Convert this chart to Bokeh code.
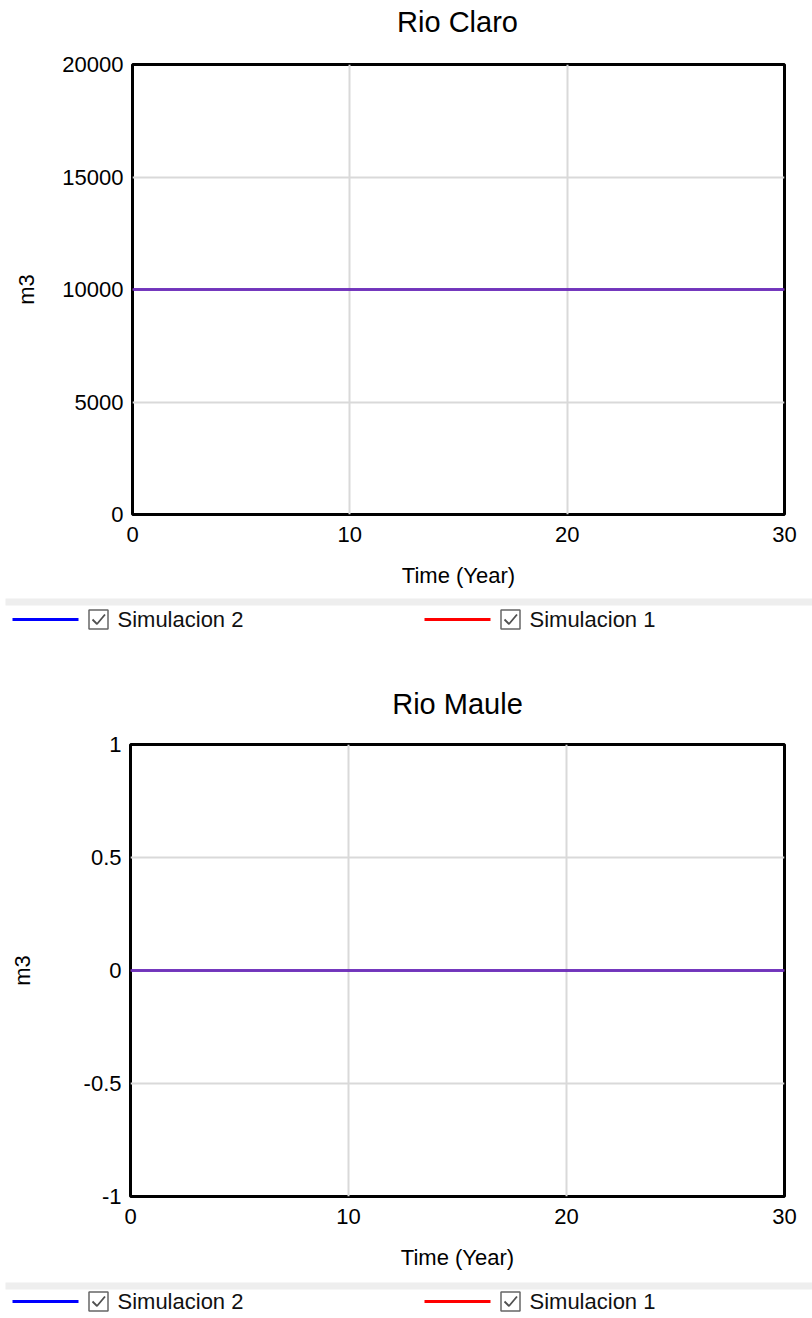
from bokeh.plotting import figure
from bokeh.models import Range1d, FixedTicker
from bokeh.layouts import column
from bokeh.core.properties import value
from bokeh.embed import file_html
from bokeh.resources import INLINE

# ---- data ----
time_years = [0, 5, 10, 15, 20, 25, 30]
rio_claro_sim1 = [10000, 10000, 10000, 10000, 10000, 10000, 10000]
rio_claro_sim2 = [10000, 10000, 10000, 10000, 10000, 10000, 10000]
rio_maule_sim1 = [0, 0, 0, 0, 0, 0, 0]
rio_maule_sim2 = [0, 0, 0, 0, 0, 0, 0]

x_ticks = [0, 10, 20, 30]
claro_y_ticks = [0, 5000, 10000, 15000, 20000]
claro_y_labels = ["0", "5000", "10000", "15000", "20000"]
maule_y_ticks = [-1, -0.5, 0, 0.5, 1]
maule_y_labels = ["-1", "-0.5", "0", "0.5", "1"]
titles = ["Rio Claro", "Rio Maule"]
series_names = ["Simulacion 2", "Simulacion 1"]
series_colors = ["#0000FF", "#FF0000"]

FONT = "Liberation Sans"
W = 812


def blank(height):
    f = figure(width=W, height=height, x_range=Range1d(0, W), y_range=Range1d(height, 0),
               output_backend="svg", toolbar_location=None,
               min_border_left=0, min_border_right=0, min_border_top=0, min_border_bottom=0)
    f.axis.visible = False
    f.grid.visible = False
    f.outline_line_color = None
    return f


def make_header(title, height, yc):
    h = blank(height)
    h.text([457], [yc], text=[title], text_font=value(FONT), text_font_size="29px",
           text_align="center", text_baseline="middle", text_color="#000000")
    return h


def make_chart(sim1, sim2, yr, yticks, ylabels, left, height, ylab_standoff):
    p = figure(width=W, height=height, x_range=Range1d(0, 30), y_range=Range1d(*yr),
               output_backend="svg", toolbar_location=None,
               min_border_left=left, min_border_right=28, min_border_top=16,
               min_border_bottom=83)
    p.outline_line_color = "#000000"
    p.outline_line_width = 3
    p.outline_line_alpha = 1.0
    p.background_fill_color = "white"
    p.border_fill_color = "white"

    p.xaxis.ticker = FixedTicker(ticks=x_ticks)
    p.yaxis.ticker = FixedTicker(ticks=yticks)
    p.yaxis.major_label_overrides = {t: l for t, l in zip(yticks, ylabels)}
    p.xaxis.axis_label = "Time (Year)"
    p.yaxis.axis_label = "m3"
    for ax in (p.xaxis, p.yaxis):
        ax.axis_line_color = None
        ax.major_tick_line_color = None
        ax.minor_tick_line_color = None
        ax.major_tick_out = 0
        ax.major_tick_in = 0
        ax.minor_tick_out = 0
        ax.minor_tick_in = 0
        ax.major_label_text_font = FONT
        ax.major_label_text_font_size = "22px"
        ax.major_label_text_color = "#000000"
        ax.axis_label_text_font = FONT
        ax.axis_label_text_font_size = "22px"
        ax.axis_label_text_font_style = "normal"
        ax.axis_label_text_color = "#000000"
    p.xaxis.major_label_standoff = 12
    p.xaxis.axis_label_standoff = 18
    p.yaxis.major_label_standoff = 9
    p.yaxis.axis_label_standoff = ylab_standoff

    p.grid.grid_line_color = "#D9D9D9"
    p.grid.grid_line_width = 2
    p.xgrid.ticker = FixedTicker(ticks=x_ticks)
    p.ygrid.ticker = FixedTicker(ticks=yticks)

    p.line(time_years, sim1, line_color=series_colors[1], line_width=3, line_alpha=0.49)
    p.line(time_years, sim2, line_color=series_colors[0], line_width=3, line_alpha=0.52)
    return p


def make_legend(height, band_top, yc):
    lg = blank(height)
    lg.quad(left=[5], right=[W], top=[band_top], bottom=[band_top + 7],
            fill_color="#EEEEEE", line_color=None)
    starts = [12, 424]
    for name, col, x0 in zip(series_names, series_colors, starts):
        lg.line([x0, x0 + 66], [yc, yc], line_color=col, line_width=3)
        cx = x0 + 86
        lg.rect([cx], [yc], width=19, height=19, fill_color="white",
                line_color="#666666", line_width=1.5)
        lg.line([cx - 6, cx - 1.5, cx + 6.5], [yc, yc + 4.5, yc - 5],
                line_color="#505050", line_width=1.8)
        lg.text([x0 + 105], [yc], text=[name], text_font_size="22px",
                text_baseline="middle", text_align="left", text_color="#111111",
                text_font=value(FONT))
    return lg


h1 = make_header(titles[0], 48, 21)
p1 = make_chart(rio_claro_sim1, rio_claro_sim2, (0, 20000),
                claro_y_ticks, claro_y_labels, 132, 549, 20)
l1 = make_legend(83, 1, 22)
h2 = make_header(titles[1], 48, 23)
p2 = make_chart(rio_maule_sim1, rio_maule_sim2, (-1, 1),
                maule_y_ticks, maule_y_labels, 130, 551, 46)
l2 = make_legend(39, 3, 22)

layout = column(column(h1), column(p1), column(l1), column(h2), column(p2), column(l2),
                spacing=0)
open("out.html", "w").write(file_html(layout, INLINE))
